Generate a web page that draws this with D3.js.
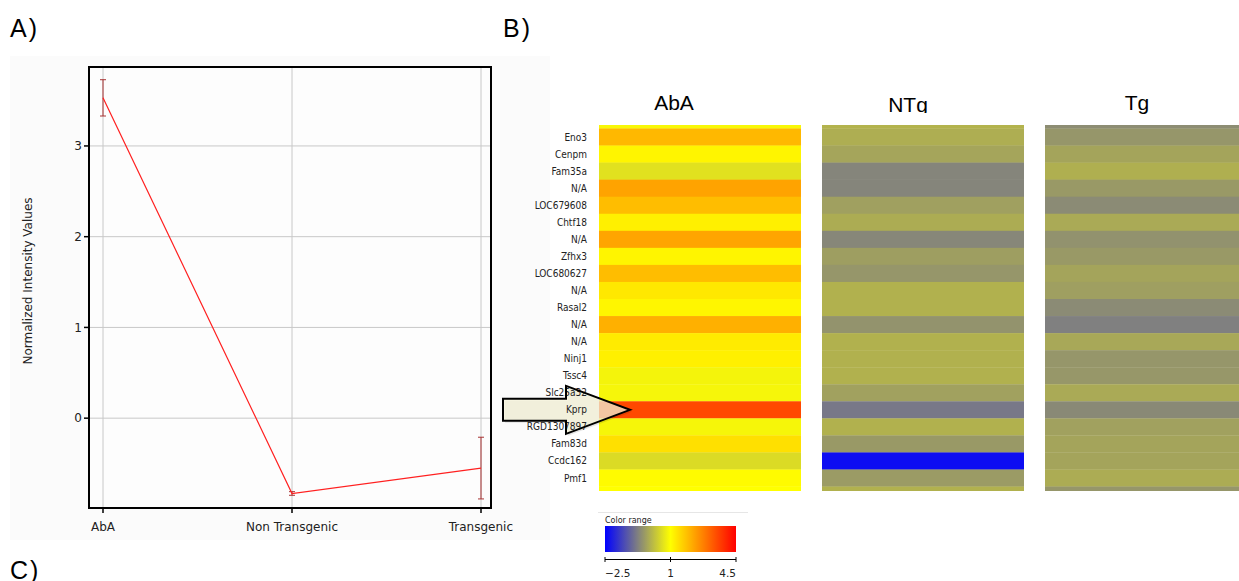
<!DOCTYPE html>
<html>
<head>
<meta charset="utf-8">
<script src="https://cdn.jsdelivr.net/npm/d3@7"></script>
<style>
  body { margin: 0; background: #fff; }
  svg { display: block; }
</style>
</head>
<body>
<svg id="fig" width="1239" height="581"></svg>
<script>
// profile plot (panel A)
const conditions = ["AbA", "Non Transgenic", "Transgenic"];
const meanValues = [3.53, -0.83, -0.55];
const errLow = [3.33, -0.85, -0.89];
const errHigh = [3.73, -0.81, -0.21];
const yTicks = [0, 1, 2, 3];

// heatmap (panel B); first and last rows are only partly visible
const genes = ["", "Eno3", "Cenpm", "Fam35a", "N/A", "LOC679608", "Chtf18", "N/A", "Zfhx3",
  "LOC680627", "N/A", "Rasal2", "N/A", "N/A", "Ninj1", "Tssc4", "Slc25a32", "Kprp",
  "RGD1307897", "Fam83d", "Ccdc162", "Pmf1", ""];
const columns = ["AbA", "NTg", "Tg"];
const abaValues = [0.9, 1.97, 1.14, 0.58, 2.26, 1.9, 1.2, 2.24, 1.14, 1.9, 1.32, 1.12, 2.08,
  1.27, 1.2, 0.85, 0.87, 3.51, 0.88, 1.43, 0.5, 1.05, 1.0];
const ntgValues = [-0.05, -0.12, -0.24, -0.68, -0.68, -0.31, -0.14, -0.65, -0.33, -0.45, -0.07,
  -0.07, -0.49, -0.07, -0.07, -0.07, -0.3, -0.86, -0.07, -0.4, -2.32, -0.38, -0.07];
const tgValues = [-0.57, -0.45, -0.25, -0.1, -0.4, -0.6, -0.17, -0.5, -0.4, -0.25, -0.32, -0.6,
  -0.75, -0.2, -0.45, -0.43, -0.17, -0.62, -0.3, -0.25, -0.25, -0.15, -0.45];
const colorStops = [-2.5, -0.75, 1, 4.5];
const colorRange = ["#0000ff", "#808080", "#ffff00", "#ff0000"];
const legendTicks = [-2.5, 1, 4.5];

const svg = d3.select("#fig");

// panel letters
svg.append("g").selectAll("text")
  .data([["A)", 10, 37], ["B)", 503, 37], ["C)", 10, 579]])
  .join("text")
  .attr("x", d => d[1]).attr("y", d => d[2])
  .style("font-family", "'Liberation Sans', Arial, sans-serif")
  .style("font-size", "25px")
  .style("letter-spacing", "2px")
  .text(d => d[0]);

// --- panel A ---
svg.append("rect")
  .attr("x", 10).attr("y", 56).attr("width", 540).attr("height", 484)
  .attr("fill", "#fbfbfb");

const plot = { left: 89, right: 491, top: 67, bottom: 508 };
const x = d3.scalePoint().domain(conditions).range([103, 481]);
const y = d3.scaleLinear().domain([-0.99, 3.87]).range([plot.bottom, plot.top]);

const a = svg.append("g")
  .style("font-family", "'DejaVu Sans', sans-serif")
  .style("font-size", "12px");

a.append("rect")
  .attr("x", plot.left).attr("y", plot.top)
  .attr("width", plot.right - plot.left).attr("height", plot.bottom - plot.top)
  .attr("fill", "#fdfdfd");

a.selectAll(".hgrid").data(yTicks).join("line")
  .attr("x1", plot.left).attr("x2", plot.right)
  .attr("y1", d => y(d)).attr("y2", d => y(d))
  .attr("stroke", "#c8c8c8");
a.selectAll(".vgrid").data(conditions).join("line")
  .attr("x1", d => x(d)).attr("x2", d => x(d))
  .attr("y1", plot.top).attr("y2", plot.bottom)
  .attr("stroke", "#c8c8c8");

// error bars
const errColor = "#a83434";
conditions.forEach((c, i) => {
  const cx = x(c);
  a.append("line").attr("x1", cx).attr("x2", cx)
    .attr("y1", y(errLow[i])).attr("y2", y(errHigh[i]))
    .attr("stroke", errColor);
  [errLow[i], errHigh[i]].forEach(v => {
    a.append("line").attr("x1", cx - 3).attr("x2", cx + 3)
      .attr("y1", y(v)).attr("y2", y(v))
      .attr("stroke", errColor);
  });
});

a.append("path")
  .datum(meanValues)
  .attr("d", d3.line().x((d, i) => x(conditions[i])).y(d => y(d)))
  .attr("fill", "none")
  .attr("stroke", "#ff2020")
  .attr("stroke-width", 1.2);

a.append("rect")
  .attr("x", plot.left).attr("y", plot.top)
  .attr("width", plot.right - plot.left).attr("height", plot.bottom - plot.top)
  .attr("fill", "none").attr("stroke", "#000").attr("stroke-width", 2);

// y axis ticks + labels
a.selectAll(".yt").data(yTicks).join("line")
  .attr("x1", plot.left - 5).attr("x2", plot.left)
  .attr("y1", d => y(d)).attr("y2", d => y(d))
  .attr("stroke", "#000").attr("stroke-width", 1.5);
a.selectAll(".yl").data(yTicks).join("text")
  .attr("x", plot.left - 7).attr("y", d => y(d)).attr("dy", "0.35em")
  .attr("text-anchor", "end").attr("fill", "#222")
  .text(d => d);

// x axis ticks + labels
a.selectAll(".xt").data(conditions).join("line")
  .attr("x1", d => x(d)).attr("x2", d => x(d))
  .attr("y1", plot.bottom).attr("y2", plot.bottom + 5)
  .attr("stroke", "#000").attr("stroke-width", 1.5);
a.selectAll(".xl").data(conditions).join("text")
  .attr("x", (d, i) => i === 2 ? x(d) + 32 : x(d))
  .attr("y", 531)
  .attr("text-anchor", (d, i) => i === 2 ? "end" : "middle")
  .attr("fill", "#222")
  .text(d => d);

a.append("text")
  .attr("transform", "translate(32,281) rotate(-90)")
  .attr("text-anchor", "middle")
  .attr("fill", "#222")
  .text("Normalized Intensity Values");

// --- panel B ---
const color = d3.scaleLinear().domain(colorStops).range(colorRange).clamp(true);
const rowH = 17.05;
const yRow = d3.scaleBand().domain(d3.range(genes.length))
  .range([128.5 - rowH, 128.5 - rowH + genes.length * rowH]);
const colX = [599, 822, 1045];
const colW = [202, 202, 200];
const colValues = [abaValues, ntgValues, tgValues];

svg.append("clipPath").attr("id", "hmclip")
  .append("rect").attr("x", 0).attr("y", 125).attr("width", 1239).attr("height", 366);

const hm = svg.append("g").attr("clip-path", "url(#hmclip)");
columns.forEach((col, j) => {
  hm.append("g").selectAll("rect")
    .data(colValues[j])
    .join("rect")
    .attr("x", colX[j]).attr("width", colW[j])
    .attr("y", (d, i) => yRow(i)).attr("height", yRow.bandwidth() + 0.3)
    .attr("fill", d => color(d));
});

svg.append("g").selectAll("text")
  .data(columns)
  .join("text")
  .attr("x", (d, j) => colX[j] + [75, 86, 92][j])
  .attr("y", (d, j) => [110, 112, 110][j])
  .attr("text-anchor", "middle")
  .style("font-family", "'Liberation Sans', Arial, sans-serif")
  .style("font-size", "21px")
  .text(d => d);
// NTg header is cut at the bottom in the original
svg.append("rect").attr("x", 880).attr("y", 113).attr("width", 60).attr("height", 10).attr("fill", "#fff");

// arrow pointing at Kprp: translucent fill under the labels, outline above
const kprpY = yRow(genes.indexOf("Kprp")) + rowH / 2;
const arrowPts = [[503, kprpY - 11], [566, kprpY - 11], [566, kprpY - 24], [630, kprpY],
  [566, kprpY + 24], [566, kprpY + 11], [503, kprpY + 11]];
const arrowPath = arrowPts.map(p => p.join(",")).join(" ");
svg.append("polygon")
  .attr("points", arrowPts.map(p => [p[0] + 2, p[1] + 2].join(",")).join(" "))
  .attr("fill", "#000").attr("opacity", 0.1);
svg.append("polygon")
  .attr("points", arrowPath)
  .attr("fill", "#f6f3d8").attr("fill-opacity", 0.75);

svg.append("g").selectAll("text")
  .data(genes)
  .join("text")
  .attr("x", 587)
  .attr("y", (d, i) => yRow(i) + rowH / 2)
  .attr("dy", "0.35em")
  .attr("text-anchor", "end")
  .attr("fill", "#222")
  .style("font-family", "'DejaVu Sans Condensed', 'DejaVu Sans', sans-serif")
  .style("font-size", "10px")
  .text(d => d);

svg.append("polygon")
  .attr("points", arrowPath)
  .attr("fill", "none")
  .attr("stroke", "#000").attr("stroke-width", 2)
  .attr("stroke-linejoin", "miter");

// colour range legend
const lg = svg.append("g")
  .style("font-family", "'DejaVu Sans', sans-serif");
lg.append("line").attr("x1", 598).attr("x2", 748).attr("y1", 512.5).attr("y2", 512.5)
  .attr("stroke", "#e6e6e6");
lg.append("text").attr("x", 605).attr("y", 523)
  .style("font-size", "8px").attr("fill", "#222").text("Color range");

const grad = svg.append("defs").append("linearGradient").attr("id", "cgrad");
const lx = d3.scaleLinear().domain([-2.5, 4.5]).range([605, 736]);
d3.range(0, 1.0001, 0.05).forEach(t => {
  const v = -2.5 + t * 7;
  grad.append("stop").attr("offset", t).attr("stop-color", color(v));
});
lg.append("rect").attr("x", 605).attr("y", 526).attr("width", 131).attr("height", 26)
  .attr("fill", "url(#cgrad)");
lg.append("line").attr("x1", 605).attr("x2", 736).attr("y1", 559.5).attr("y2", 559.5)
  .attr("stroke", "#000");
lg.selectAll(".lt").data(legendTicks).join("line")
  .attr("x1", d => lx(d)).attr("x2", d => lx(d))
  .attr("y1", 557).attr("y2", 562)
  .attr("stroke", "#000");
lg.selectAll(".ll").data(legendTicks).join("text")
  .attr("x", d => lx(d)).attr("y", 577)
  .attr("text-anchor", (d, i) => i === 0 ? "start" : i === 2 ? "end" : "middle")
  .style("font-size", "10.5px").attr("fill", "#222")
  .text(d => d === -2.5 ? "\u22122.5" : d);
</script>
</body>
</html>
